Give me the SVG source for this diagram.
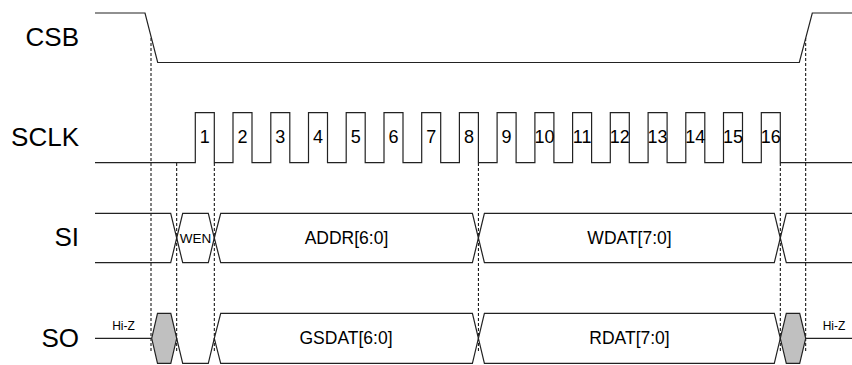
<svg xmlns="http://www.w3.org/2000/svg" width="852" height="365" viewBox="0 0 852 365">
<style>
.w{fill:none;stroke:#222;stroke-width:1.2;stroke-linejoin:miter}
.hz{fill:#c0c0c0;stroke:#222;stroke-width:1.2}
.d{fill:none;stroke:#000;stroke-width:1;stroke-dasharray:3,2}
.lab{font-family:"Liberation Sans",Arial,sans-serif;font-size:26px;fill:#000;text-anchor:end}
.n{font-family:"Liberation Sans",Arial,sans-serif;font-size:18px;fill:#000;text-anchor:middle}
.b{font-family:"Liberation Sans",Arial,sans-serif;font-size:17.5px;fill:#000;text-anchor:middle}
.s{font-family:"Liberation Sans",Arial,sans-serif;font-size:13.5px;fill:#000;text-anchor:middle}
.z{font-family:"Liberation Sans",Arial,sans-serif;font-size:12px;fill:#000;text-anchor:middle}
</style>
<rect width="852" height="365" fill="#fff"/>
<g id="labels">
<text class="lab" x="79" y="46">CSB</text>
<text class="lab" x="79" y="146">SCLK</text>
<text class="lab" x="79" y="246">SI</text>
<text class="lab" x="79" y="347">SO</text>
</g>
<g id="connectors">
<line class="d" x1="151" y1="38" x2="151" y2="352"/>
<line class="d" x1="176.7" y1="163" x2="176.7" y2="352"/>
<line class="d" x1="214.3" y1="163" x2="214.3" y2="352"/>
<line class="d" x1="478.4" y1="163" x2="478.4" y2="352"/>
<line class="d" x1="780.3" y1="163" x2="780.3" y2="352"/>
<line class="d" x1="805.7" y1="38" x2="805.7" y2="352"/>
</g>
<g id="csb">
<path class="w" d="M95,13 H145 L157.7,62.5 H799.3 L812.3,13 H852"/>
</g>
<g id="sclk">
<path class="w" d="M95,162.7 H195.3 V112.7 H214.3 V162.7 H233 V112.7 H252 V162.7 H270.8 V112.7 H289.8 V162.7 H308.5 V112.7 H327.5 V162.7 H346.2 V112.7 H365.2 V162.7 H384 V112.7 H403 V162.7 H421.7 V112.7 H440.7 V162.7 H459.4 V112.7 H478.4 V162.7 H497.1 V112.7 H516.1 V162.7 H534.9 V112.7 H553.9 V162.7 H572.6 V112.7 H591.6 V162.7 H610.3 V112.7 H629.3 V162.7 H648.1 V112.7 H667.1 V162.7 H685.8 V112.7 H704.8 V162.7 H723.5 V112.7 H742.5 V162.7 H761.3 V112.7 H780.3 V162.7 H852"/>
<text class="n" x="204.8" y="143.3">1</text>
<text class="n" x="242.5" y="143.3">2</text>
<text class="n" x="280.3" y="143.3">3</text>
<text class="n" x="318" y="143.3">4</text>
<text class="n" x="355.7" y="143.3">5</text>
<text class="n" x="393.5" y="143.3">6</text>
<text class="n" x="431.2" y="143.3">7</text>
<text class="n" x="468.9" y="143.3">8</text>
<text class="n" x="506.6" y="143.3">9</text>
<text class="n" x="544.4" y="143.3">10</text>
<text class="n" x="582.1" y="143.3">11</text>
<text class="n" x="619.8" y="143.3">12</text>
<text class="n" x="657.6" y="143.3">13</text>
<text class="n" x="695.3" y="143.3">14</text>
<text class="n" x="733" y="143.3">15</text>
<text class="n" x="770.8" y="143.3">16</text>
</g>
<g id="si">
<path class="w" d="M95,213.3 H170.7 L176.7,238 L170.7,262.7 H95"/>
<path class="w" d="M176.7,238 L182.7,213.3 H208.3 L214.3,238 L208.3,262.7 H182.7 Z"/>
<path class="w" d="M214.3,238 L220.7,213.3 H472.4 L478.4,238 L472.4,262.7 H220.7 Z"/>
<path class="w" d="M478.4,238 L484.4,213.3 H774.3 L780.3,238 L774.3,262.7 H484.4 Z"/>
<path class="w" d="M852,213.3 H786.3 L780.3,238 L786.3,262.7 H852"/>
<text class="s" x="195.5" y="243.3">WEN</text>
<text class="b" x="346.5" y="244">ADDR[6:0]</text>
<text class="b" x="629.5" y="244">WDAT[7:0]</text>
</g>
<g id="so">
<line class="w" x1="95" y1="338.3" x2="151.7" y2="338.3"/>
<path class="hz" d="M151.7,338.3 L157.5,313.3 H170.8 L176.7,338.3 L170.8,363.3 H157.5 Z"/>
<path class="w" d="M176.7,338.3 L182.7,363.3 H208.3 L214.3,338.3"/>
<path class="w" d="M214.3,338.3 L220.7,313.3 H472.4 L478.4,338.3 L472.4,363.3 H220.7 Z"/>
<path class="w" d="M478.4,338.3 L484.4,313.3 H774.3 L780.3,338.3 L774.3,363.3 H484.4 Z"/>
<path class="hz" d="M780.3,338.3 L786.3,313.3 H799.7 L805.7,338.3 L799.7,363.3 H786.3 Z"/>
<line class="w" x1="805.7" y1="338.3" x2="852" y2="338.3"/>
<text class="z" x="123.5" y="330">Hi-Z</text>
<text class="z" x="834" y="330">Hi-Z</text>
<text class="b" x="346" y="344">GSDAT[6:0]</text>
<text class="b" x="629.5" y="344">RDAT[7:0]</text>
</g>
</svg>
